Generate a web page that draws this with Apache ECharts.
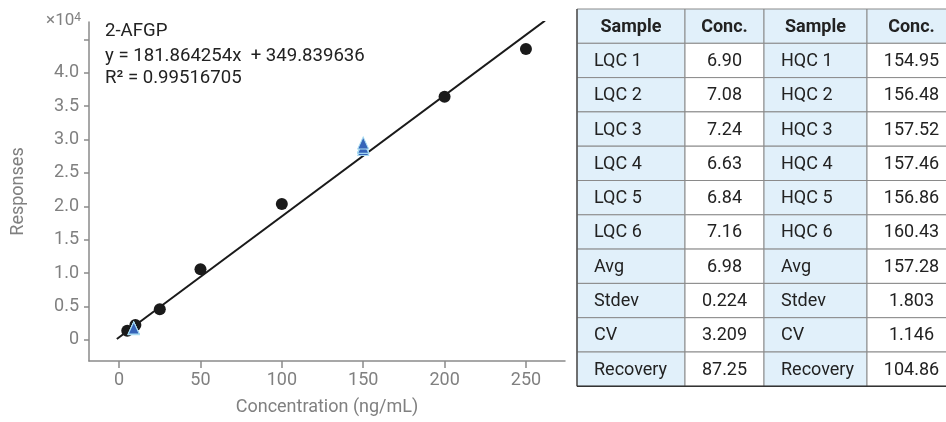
<!DOCTYPE html>
<html>
<head>
<meta charset="utf-8">
<script src="https://cdn.jsdelivr.net/npm/echarts@6/dist/echarts.min.js"></script>
<style>
  html, body { margin: 0; padding: 0; background: #fff; }
  #main { width: 946px; height: 422px; }
</style>
</head>
<body>
<div id="main"></div>
<script>
// calibration standards (black dots)
var stdConc = [5, 10, 25, 50, 100, 200, 250];
var stdResp = [1390, 2250, 4600, 10600, 20350, 36400, 43550];
// QC samples (blue triangles)
var lqcConc = [9, 9, 9, 9, 9, 9];
var lqcResp = [1740, 1770, 1800, 1690, 1720, 1790];
var hqcConc = [150, 150, 150, 150, 150, 150];
var hqcResp = [28500, 28800, 29000, 28950, 28850, 29500];
// regression line end points
var fitConc = [-1.4, 261.7];
var fitResp = [150, 47800];
// ticks
var xTicks = [0, 50, 100, 150, 200, 250];
var yTicks = [0, 5000, 10000, 15000, 20000, 25000, 30000, 35000, 40000, 45000];
var yLabels = [0, 5000, 10000, 15000, 20000, 25000, 30000, 35000, 40000];

// table
var headers = ['Sample', 'Conc.', 'Sample', 'Conc.'];
var lqcNames = ['LQC 1', 'LQC 2', 'LQC 3', 'LQC 4', 'LQC 5', 'LQC 6', 'Avg', 'Stdev', 'CV', 'Recovery'];
var lqcVals = ['6.90', '7.08', '7.24', '6.63', '6.84', '7.16', '6.98', '0.224', '3.209', '87.25'];
var hqcNames = ['HQC 1', 'HQC 2', 'HQC 3', 'HQC 4', 'HQC 5', 'HQC 6', 'Avg', 'Stdev', 'CV', 'Recovery'];
var hqcVals = ['154.95', '156.48', '157.52', '157.46', '156.86', '160.43', '157.28', '1.803', '1.146', '104.86'];

function zip(a, b) {
  var out = [];
  for (var i = 0; i < a.length; i++) out.push([a[i], b[i]]);
  return out;
}

var FONT = 'Roboto, "Noto Sans", sans-serif';
var FS = 18;
var chart = echarts.init(document.getElementById('main'));

// build the table out of graphic rects/texts
var graphics = [];
var tX = 577, tY = 9, rowH = 34.3;
var colW = [108, 79, 103, 89];
var colX = [tX];
for (var c = 0; c < colW.length; c++) colX.push(colX[c] + colW[c]);
var blue = '#e1f0fa';
var rows = [headers];
for (var r = 0; r < lqcNames.length; r++) rows.push([lqcNames[r], lqcVals[r], hqcNames[r], hqcVals[r]]);

for (var r = 0; r < rows.length; r++) {
  for (var c = 0; c < 4; c++) {
    var fill = (r === 0 || c % 2 === 0) ? blue : '#fff';
    var y0 = tY + r * rowH;
    graphics.push({
      type: 'rect',
      shape: { x: colX[c], y: y0, width: colW[c], height: rowH },
      style: { fill: fill, stroke: '#8a8a8a', lineWidth: 1 },
      z: 1
    });
    var left = (r > 0 && c % 2 === 0);
    graphics.push({
      type: 'text',
      x: left ? colX[c] + 17 : colX[c] + colW[c] / 2,
      y: y0 + rowH / 2 + 1,
      style: {
        text: rows[r][c],
        font: (r === 0 ? 'bold ' : '') + FS + 'px ' + FONT,
        fill: '#222',
        align: left ? 'left' : 'center',
        verticalAlign: 'middle'
      },
      z: 3
    });
  }
}
var tBottom = tY + rows.length * rowH;
graphics.push({
  type: 'line', shape: { x1: tX, y1: tY, x2: tX, y2: tBottom },
  style: { stroke: '#555', lineWidth: 1.5 }, z: 2
});
graphics.push({
  type: 'line', shape: { x1: tX, y1: tBottom, x2: 946, y2: tBottom },
  style: { stroke: '#333', lineWidth: 1.5 }, z: 2
});

// plot annotations
var noteFont = '18.6px ' + FONT;
graphics.push({
  type: 'text', x: 105, y: 31,
  style: { text: '2-AFGP', font: noteFont, fill: '#222', verticalAlign: 'middle' }, z: 5
});
graphics.push({
  type: 'text', x: 105, y: 56,
  style: { text: 'y = 181.864254x  + 349.839636', font: noteFont, fill: '#222', verticalAlign: 'middle' }, z: 5
});
graphics.push({
  type: 'text', x: 105, y: 78,
  style: { text: 'R² = 0.99516705', font: noteFont, fill: '#222', verticalAlign: 'middle' }, z: 5
});
graphics.push({
  type: 'text', x: 81, y: 21,
  style: {
    text: '{a|×10}{b|4}',
    align: 'right',
    verticalAlign: 'middle',
    rich: {
      a: { font: '17px ' + FONT, fill: '#808080', color: '#808080' },
      b: { font: '12px ' + FONT, fill: '#808080', color: '#808080', verticalAlign: 'top', padding: [0, 0, 6, 0] }
    }
  },
  z: 5
});

var option = {
  backgroundColor: '#fff',
  animation: false,
  textStyle: { fontFamily: FONT },
  grid: {
    left: 89, right: 381, top: 22, bottom: 61,
    containLabel: false,
    outerBoundsMode: 'none'
  },
  xAxis: {
    type: 'value',
    min: -18.5,
    max: 274,
    name: 'Concentration (ng/mL)',
    nameLocation: 'middle',
    nameGap: 37,
    nameTextStyle: { color: '#808080', fontSize: FS },
    axisLine: { show: true, onZero: false, lineStyle: { color: '#8a8a8a', width: 1.5 } },
    axisTick: { show: true, length: 7, customValues: xTicks, lineStyle: { color: '#8a8a8a', width: 1.5 } },
    axisLabel: { customValues: xTicks, color: '#808080', fontSize: FS, margin: 10 },
    splitLine: { show: false }
  },
  yAxis: {
    type: 'value',
    min: -3150,
    max: 47600,
    name: 'Responses',
    nameLocation: 'middle',
    nameGap: 62,
    nameTextStyle: { color: '#808080', fontSize: FS },
    axisLine: { show: true, onZero: false, lineStyle: { color: '#8a8a8a', width: 1.5 } },
    axisTick: { show: true, length: 5, customValues: yTicks, lineStyle: { color: '#8a8a8a', width: 1.5 } },
    axisLabel: {
      customValues: yLabels,
      color: '#808080',
      fontSize: FS,
      margin: 10,
      formatter: function (v) { return v === 0 ? '0' : (v / 10000).toFixed(1); }
    },
    splitLine: { show: false }
  },
  graphic: graphics,
  series: [{
    type: 'line',
    data: zip(fitConc, fitResp),
    showSymbol: false,
    lineStyle: { color: '#1a1a1a', width: 2 },
    z: 2
  }, {
    type: 'scatter',
    data: zip(stdConc, stdResp),
    symbol: 'circle',
    symbolSize: 12,
    itemStyle: { color: '#1a1a1a', opacity: 1 },
    z: 3
  }, {
    type: 'scatter',
    data: zip(lqcConc, lqcResp),
    symbol: 'triangle',
    symbolSize: [11, 12],
    itemStyle: { color: '#3563b8', borderColor: '#a9dcf2', borderWidth: 1, opacity: 1 },
    z: 4
  }, {
    type: 'scatter',
    data: zip(hqcConc, hqcResp),
    symbol: 'triangle',
    symbolSize: [11, 12],
    itemStyle: { color: '#3563b8', borderColor: '#a9dcf2', borderWidth: 1, opacity: 1 },
    z: 4
  }]
};
chart.setOption(option);
</script>
</body>
</html>
